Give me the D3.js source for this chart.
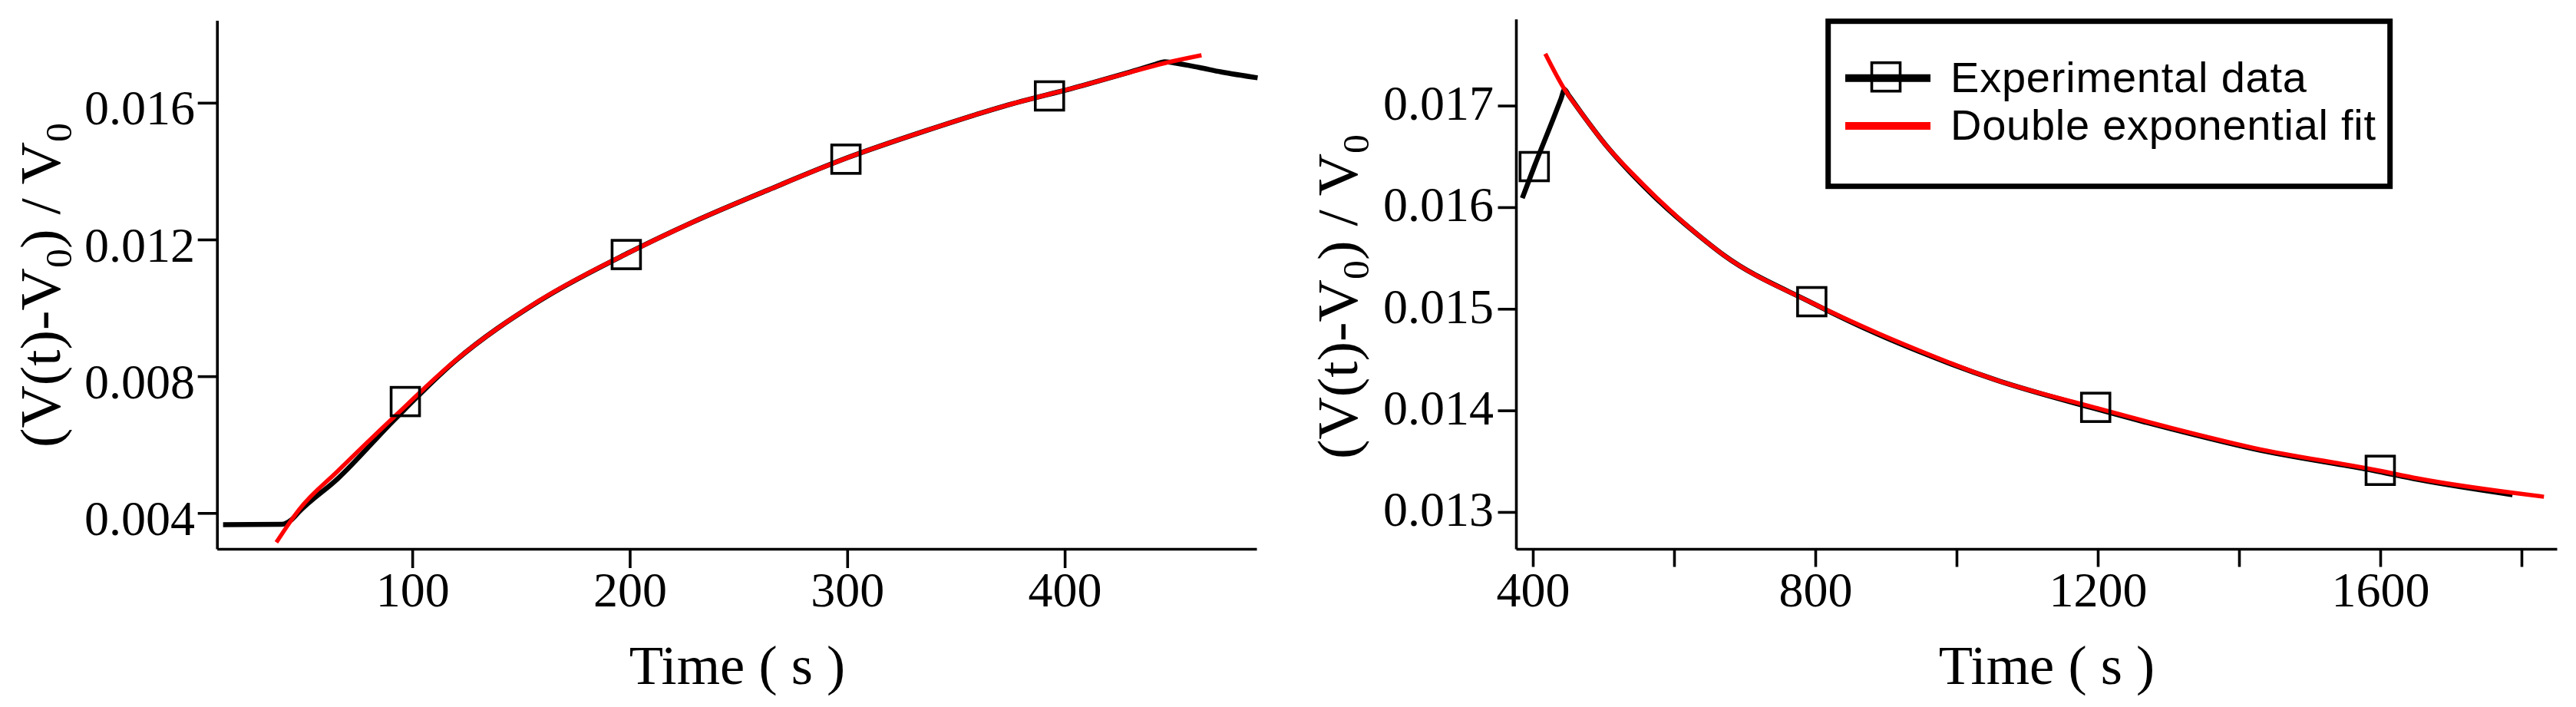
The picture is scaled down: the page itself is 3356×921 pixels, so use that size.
<!DOCTYPE html>
<html>
<head>
<meta charset="utf-8">
<script src="https://cdn.jsdelivr.net/npm/d3@7"></script>
<style>
  html, body { margin: 0; padding: 0; background: #fff; }
  svg { display: block; }
  text { white-space: pre; }
</style>
</head>
<body>
<svg id="chart" width="3356" height="921"></svg>
<script>
// ---------------- DATA ----------------
// Left panel: rise
const leftDataTime  = [13, 40, 44.6, 48, 65.8, 91.6, 119.8, 158.1, 199.7, 228, 264, 300, 336, 372, 408, 430, 441, 446, 451, 462, 472, 488.7];
const leftDataValue = [0.00366, 0.00367, 0.00381, 0.00404, 0.00501, 0.00672, 0.00845, 0.01019, 0.01162, 0.01248, 0.01346, 0.01439, 0.01518, 0.0159, 0.0165, 0.0169, 0.01711, 0.0172, 0.01716, 0.01703, 0.0169, 0.01673];
const leftFitTime   = [37.5, 44.6, 48.1, 65.8, 91.6, 119.8, 158.1, 199.7, 228, 264, 300, 336, 372, 408, 430.5, 446, 462.9];
const leftFitValue  = [0.00314, 0.00381, 0.00411, 0.00523, 0.00681, 0.00846, 0.0102, 0.01162, 0.01248, 0.01346, 0.01439, 0.01518, 0.0159, 0.0165, 0.0169, 0.01716, 0.01739];
const leftMarkerTime  = [96.8, 198.4, 299.4, 393];
const leftMarkerValue = [0.00726, 0.01156, 0.01435, 0.0162];
const leftXTicks = [100, 200, 300, 400];
const leftYTicks = [0.004, 0.008, 0.012, 0.016];

// Right panel: decay
const rightDataTime  = [385.1, 402, 430, 440, 444.9, 450, 468.5, 504.7, 541, 577.2, 635.1, 670, 794.8, 888.4, 946.7, 1055.5, 1194.8, 1302.7, 1421.4, 1596.4, 1653.3, 1787.3];
const rightDataValue = [0.01609, 0.0164, 0.01689, 0.01707, 0.01716, 0.01711, 0.01693, 0.0166, 0.01632, 0.01607, 0.01572, 0.01553, 0.01506, 0.01475, 0.01458, 0.0143, 0.01402, 0.01382, 0.01362, 0.0134, 0.01332, 0.01317];
const rightFitTime   = [417.7, 444.9, 468.5, 504.7, 541, 577.2, 635.1, 670, 794.8, 888.4, 946.7, 1055.5, 1194.8, 1302.7, 1421.4, 1596.4, 1653.3, 1831.8];
const rightFitValue  = [0.01751, 0.01716, 0.01693, 0.0166, 0.01633, 0.01608, 0.01572, 0.01553, 0.01506, 0.01476, 0.01459, 0.0143, 0.01403, 0.01383, 0.01363, 0.01341, 0.01333, 0.01315];
const rightMarkerTime  = [402, 795, 1197, 1600];
const rightMarkerValue = [0.0164, 0.01507, 0.01403, 0.01341];
const rightXTicks = [400, 600, 800, 1000, 1200, 1400, 1600, 1800];
const rightXLabels = [400, 800, 1200, 1600];
const rightYTicks = [0.013, 0.014, 0.015, 0.016, 0.017];

const legendLabels = ["Experimental data", "Double exponential fit"];
const xTitle = "Time ( s )";

// ---------------- DRAW ----------------
const svg = d3.select("#chart");
svg.append("rect").attr("width", 3356).attr("height", 921).attr("fill", "#fff");
const serif = "'Liberation Serif', 'Times New Roman', serif";
const sans = "'Liberation Sans', Arial, sans-serif";

function zip(a, b) { return a.map((t, i) => [t, b[i]]); }

function panel(cfg) {
  const x = d3.scaleLinear().domain(cfg.xDomain).range(cfg.xRange);
  const y = d3.scaleLinear().domain(cfg.yDomain).range(cfg.yRange);
  const g = svg.append("g");

  const xa = g.append("g").attr("transform", `translate(0,${cfg.yRange[0]})`)
    .call(d3.axisBottom(x).tickValues(cfg.xTicks).tickSize(cfg.tick).tickSizeOuter(0)
      .tickFormat(d => cfg.xLabels.includes(d) ? d3.format("d")(d) : ""));
  const ya = g.append("g").attr("transform", `translate(${cfg.xRange[0]},0)`)
    .call(d3.axisLeft(y).tickValues(cfg.yTicks).tickSize(cfg.tick).tickSizeOuter(0)
      .tickFormat(d3.format(".3f")));

  [xa, ya].forEach(a => {
    a.select(".domain").attr("stroke", "#000").attr("stroke-width", 3.6);
    a.selectAll(".tick line").attr("stroke", "#000").attr("stroke-width", 3.6);
    a.selectAll(".tick text").attr("fill", "#000").attr("font-family", serif).attr("font-size", 64);
  });
  xa.selectAll(".tick text").attr("y", 75).attr("dy", null);
  ya.selectAll(".tick text").attr("x", cfg.yLabelX).attr("y", cfg.yLabelDy).attr("dy", null);
  xa.attr("font-size", null).attr("font-family", null);
  ya.attr("font-size", null).attr("font-family", null);

  const line = d3.line().x(d => x(d[0])).y(d => y(d[1])).curve(d3.curveMonotoneX);

  g.append("path").datum(zip(cfg.dataT, cfg.dataV)).attr("d", line)
    .attr("fill", "none").attr("stroke", "#000").attr("stroke-width", 6.5)
    .attr("stroke-linejoin", "round").attr("stroke-linecap", "butt");
  g.append("path").datum(zip(cfg.fitT, cfg.fitV)).attr("d", line)
    .attr("fill", "none").attr("stroke", "#ff0000").attr("stroke-width", 5.5)
    .attr("stroke-linejoin", "round");

  const s = 37;
  g.selectAll("rect.mk").data(zip(cfg.mkT, cfg.mkV)).enter().append("rect")
    .attr("class", "mk")
    .attr("x", d => x(d[0]) - s / 2).attr("y", d => y(d[1]) - s / 2)
    .attr("width", s).attr("height", s)
    .attr("fill", "none").attr("stroke", "#000").attr("stroke-width", 3.6);

  g.append("text").attr("x", cfg.titleX).attr("y", 891)
    .attr("text-anchor", "middle").attr("font-family", serif).attr("font-size", 72.5)
    .attr("fill", "#000").text(xTitle);

  const yt = g.append("g").attr("transform", `translate(${cfg.yTitleBaseX},${cfg.yTitleCY}) rotate(-90)`);
  const inner = yt.append("g");
  const t = inner.append("text").attr("text-anchor", "middle")
    .attr("font-family", serif).attr("font-size", 75).attr("fill", "#000");
  t.append("tspan").text("(V(t)-V");
  t.append("tspan").attr("font-size", 49).attr("dy", 15).text("0");
  t.append("tspan").attr("dy", -15).text(") / V");
  t.append("tspan").attr("font-size", 49).attr("dy", 15).text("0");
  const w = t.node().getComputedTextLength();
  const sx = cfg.yTitleLen / w;
  inner.attr("transform", `scale(${sx},1)`);
  return { x, y };
}

panel({
  xDomain: [10.2, 488.2], xRange: [282.7, 1637],
  yDomain: [0.002951, 0.018413], yRange: [715, 26.4],
  xTicks: leftXTicks, xLabels: leftXTicks, yTicks: leftYTicks,
  tick: 25, yLabelX: -28.7, yLabelDy: 28,
  dataT: leftDataTime, dataV: leftDataValue, fitT: leftFitTime, fitV: leftFitValue,
  mkT: leftMarkerTime, mkV: leftMarkerValue,
  titleX: 960.5, yTitleBaseX: 78, yTitleCY: 371.5, yTitleLen: 423
});

panel({
  xDomain: [376.1, 1850], xRange: [1975, 3331],
  yDomain: [0.012637, 0.017853], yRange: [715, 24.7],
  xTicks: rightXTicks, xLabels: rightXLabels, yTicks: rightYTicks,
  tick: 23.5, yLabelX: -29, yLabelDy: 18,
  dataT: rightDataTime, dataV: rightDataValue, fitT: rightFitTime, fitV: rightFitValue,
  mkT: rightMarkerTime, mkV: rightMarkerValue,
  titleX: 2666.5, yTitleBaseX: 1768, yTitleCY: 386.5, yTitleLen: 423
});

// Legend
const lg = svg.append("g");
lg.append("rect").attr("x", 2381.7).attr("y", 27.7).attr("width", 3113.7 - 2381.7).attr("height", 242.7 - 27.7)
  .attr("fill", "#fff").attr("stroke", "#000").attr("stroke-width", 7);
const legendColors = ["#000", "#ff0000"];
const legendY = [101.7, 164];
const legendTextLen = [464, 554];
legendLabels.forEach((lab, i) => {
  lg.append("line").attr("x1", 2404).attr("x2", 2515).attr("y1", legendY[i]).attr("y2", legendY[i])
    .attr("stroke", legendColors[i]).attr("stroke-width", 10);
  lg.append("text").attr("x", 2541).attr("y", legendY[i] + 18)
    .attr("font-family", sans).attr("font-size", 56).attr("fill", "#000")
    .attr("textLength", legendTextLen[i]).attr("lengthAdjust", "spacing").text(lab);
});
lg.append("rect").attr("x", 2457 - 18.5).attr("y", 100.2 - 18.5).attr("width", 37).attr("height", 37)
  .attr("fill", "none").attr("stroke", "#000").attr("stroke-width", 3.6);
</script>
</body>
</html>
